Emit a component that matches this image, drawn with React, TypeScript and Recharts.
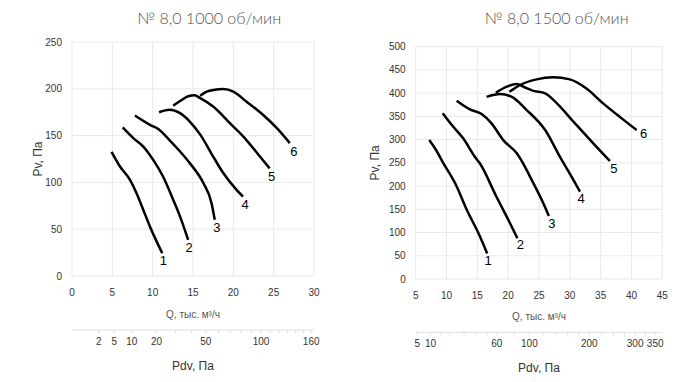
import React from 'react';
import { ComposedChart, Line, XAxis, YAxis, CartesianGrid } from 'recharts';

// ---------- 1000 об/мин ----------
const l1 = [{ q: 4.9, p: 132.7 }, { q: 5.95, p: 117 }, { q: 7.19, p: 102.7 }, { q: 8.0, p: 88.5 }, { q: 8.84, p: 70.6 }, { q: 9.67, p: 52.7 }, { q: 10.5, p: 36.7 }, { q: 11.19, p: 24.3 }];
const l2 = [{ q: 6.28, p: 158.7 }, { q: 7.6, p: 147.3 }, { q: 8.84, p: 138.3 }, { q: 10.07, p: 124 }, { q: 11.3, p: 106 }, { q: 12.55, p: 81.3 }, { q: 13.4, p: 63.4 }, { q: 14.4, p: 38.5 }];
const l3 = [{ q: 7.8, p: 171.5 }, { q: 9.67, p: 161.5 }, { q: 10.7, p: 157 }, { q: 12.05, p: 145.5 }, { q: 13.4, p: 133 }, { q: 14.6, p: 120.6 }, { q: 16.3, p: 99 }, { q: 17.3, p: 77.8 }, { q: 17.7, p: 60 }];
const l4 = [{ q: 10.8, p: 175 }, { q: 12.1, p: 177.6 }, { q: 13.4, p: 174 }, { q: 14.6, p: 165 }, { q: 15.9, p: 151 }, { q: 17.5, p: 127.6 }, { q: 18.75, p: 110 }, { q: 20.4, p: 92 }, { q: 21.2, p: 84.8 }];
const l5 = [{ q: 12.55, p: 182 }, { q: 13.6, p: 188 }, { q: 14.4, p: 192 }, { q: 15.2, p: 193 }, { q: 15.9, p: 190 }, { q: 17.5, p: 181 }, { q: 19.6, p: 163 }, { q: 21.6, p: 145.5 }, { q: 23.3, p: 127.6 }, { q: 24.5, p: 115 }];
const l6 = [{ q: 15.9, p: 192.6 }, { q: 16.7, p: 197 }, { q: 17.7, p: 199 }, { q: 18.75, p: 199.7 }, { q: 20, p: 197 }, { q: 21.6, p: 186.5 }, { q: 23.7, p: 172 }, { q: 25.4, p: 158 }, { q: 27, p: 142 }];

const lQTicks = [0, 5, 10, 15, 20, 25, 30];
const lPTicks = [0, 50, 100, 150, 200, 250];
const lPdvTicks = [2, 5, 10, 20, 30, 40, 50, 60, 70, 80, 90, 100, 110, 120, 130, 140, 150, 160];
const lPdvLabels = [2, 5, 10, 20, 50, 100, 160];
const lPdvDomain = [0, 163.8];

// ---------- 1500 об/мин ----------
const r1 = [{ q: 7.2, p: 299 }, { q: 8.3, p: 277.6 }, { q: 9.5, p: 249 }, { q: 11.4, p: 206 }, { q: 13.3, p: 148.5 }, { q: 15.2, p: 98 }, { q: 16.6, p: 55 }];
const r2 = [{ q: 9.4, p: 356.6 }, { q: 11.1, p: 327.7 }, { q: 12.7, p: 302.8 }, { q: 14.6, p: 263 }, { q: 15.4, p: 249 }, { q: 18.1, p: 177 }, { q: 20.3, p: 120 }, { q: 21.5, p: 87.6 }];
const r3 = [{ q: 11.65, p: 383.7 }, { q: 13.8, p: 365 }, { q: 15.7, p: 355 }, { q: 17.3, p: 335 }, { q: 19.2, p: 299 }, { q: 21.4, p: 270.5 }, { q: 24.1, p: 206 }, { q: 25.7, p: 163 }, { q: 26.6, p: 135.6 }];
const r4 = [{ q: 16.5, p: 392 }, { q: 18.7, p: 398 }, { q: 20.6, p: 392 }, { q: 23, p: 363.7 }, { q: 26, p: 320.6 }, { q: 28.4, p: 263 }, { q: 30.6, p: 213 }, { q: 31.65, p: 188 }];
const r5 = [{ q: 18, p: 401 }, { q: 19.6, p: 413 }, { q: 21.4, p: 419.6 }, { q: 22.5, p: 413.8 }, { q: 24.1, p: 405 }, { q: 26, p: 399.6 }, { q: 27.9, p: 378 }, { q: 30.6, p: 338.5 }, { q: 33.8, p: 292 }, { q: 36.5, p: 254 }];
const r6 = [{ q: 20.2, p: 403 }, { q: 21.9, p: 417.5 }, { q: 24.6, p: 429.7 }, { q: 27.3, p: 434 }, { q: 30, p: 429.7 }, { q: 32.7, p: 410 }, { q: 35.4, p: 378 }, { q: 38.1, p: 349 }, { q: 40.85, p: 320.6 }];

const rQTicks = [5, 10, 15, 20, 25, 30, 35, 40, 45];
const rPTicks = [0, 50, 100, 150, 200, 250, 300, 350, 400, 450, 500];
const rPdvTicks = [5, 10, 15, 20, 30, 40, 50, 60, 80, 100, 120, 140, 160, 180, 200, 225, 250, 275, 300, 325, 350];
const rPdvLabels = [5, 10, 60, 100, 200, 300, 350];
const rPdvDomain = [4.55, 368.6];

const curveNames = ['1', '2', '3', '4', '5', '6'];

const FONT = 'Liberation Sans, Arial, sans-serif';

const endLabel = (name: string, n: number, dx: number, dy: number) => (props: any) => {
  if (props.index !== n - 1) return <g key={`e${props.index}`} />;
  return (
    <text key="end" x={props.x + dx} y={props.y + dy} textAnchor="middle" fontSize={13} fontFamily={FONT} fill="#000">
      {name}
    </text>
  );
};

function FanChart(props: any) {
  const c = props.cfg;
  const pdvAnchor = c.pdvTicks.map((v: number) => ({ pdv: v, none: null }));
  return (
    <div style={{ position: 'absolute', left: c.left, top: 0, width: 350, height: 382 }}>
      <div
        style={{
          position: 'absolute',
          left: 0,
          top: c.titleTop,
          width: 350,
          textAlign: 'center',
          paddingLeft: c.titleShift,
          boxSizing: 'border-box',
          fontFamily: 'Lato, sans-serif',
          fontWeight: 300,
          fontSize: 16,
          color: '#555',
          whiteSpace: 'nowrap',
        }}
      >
        {c.title}
      </div>
      <ComposedChart width={350} height={382} margin={{ top: c.top, right: c.right, bottom: c.bottom, left: 0 }}>
        <CartesianGrid xAxisId="a_q" yAxisId="p" stroke="#e9e9e9" strokeWidth={1} />
        <XAxis
          xAxisId="a_q"
          type="number"
          dataKey="q"
          domain={c.qDomain}
          ticks={c.qTicks}
          allowDataOverflow
          height={c.qHeight}
          axisLine={false}
          tickLine={false}
          tickSize={0}
          tickMargin={13}
          tick={{ fontSize: 10, fill: '#333', fontFamily: FONT }}
          label={{ value: 'Q, тыс. м³/ч', position: 'insideBottom', offset: 12, fontSize: 10, fill: '#555', fontFamily: FONT }}
        />
        <XAxis
          xAxisId="b_pdv"
          type="number"
          dataKey="pdv"
          scale="sqrt"
          domain={c.pdvDomain}
          ticks={c.pdvTicks}
          allowDataOverflow
          interval={0}
          height={44}
          axisLine={{ stroke: '#dcdcdc' }}
          tickLine={{ stroke: '#dcdcdc' }}
          tickSize={3}
          tickMargin={5}
          tickFormatter={(v: number) => (c.pdvLabels.includes(v) ? String(v) : '')}
          tick={{ fontSize: 10, fill: '#333', fontFamily: FONT }}
          label={{ value: 'Pdv, Па', position: 'insideBottom', offset: 4, fontSize: 12, fill: '#333', fontFamily: FONT }}
        />
        <YAxis
          yAxisId="p"
          type="number"
          domain={c.pDomain}
          ticks={c.pTicks}
          allowDataOverflow
          interval={0}
          width={c.yWidth}
          axisLine={false}
          tickLine={false}
          tickSize={0}
          tickMargin={10}
          tick={{ fontSize: 10, fill: '#333', fontFamily: FONT }}
          label={{ value: 'Pv, Па', angle: -90, position: 'center', dx: c.yLabelDx, fontSize: 12, fill: '#333', fontFamily: FONT }}
        />
        <Line
          xAxisId="b_pdv"
          yAxisId="p"
          data={pdvAnchor}
          dataKey="none"
          stroke="none"
          dot={false}
          activeDot={false}
          legendType="none"
          isAnimationActive={false}
        />
        {c.curves.map((d: any[], i: number) => (
          <Line
            key={i}
            xAxisId="a_q"
            yAxisId="p"
            data={d}
            dataKey="p"
            type="monotone"
            stroke="#000"
            strokeWidth={2.5}
            dot={false}
            activeDot={false}
            isAnimationActive={false}
            label={endLabel(curveNames[i], d.length, c.labelOffsets[i][0], c.labelOffsets[i][1])}
          />
        ))}
      </ComposedChart>
    </div>
  );
}

const leftCfg = {
  left: 0,
  title: '№ 8,0 1000 об/мин',
  titleTop: 8,
  titleShift: 68,
  top: 42,
  right: 36,
  bottom: 8,
  yWidth: 72,
  yLabelDx: 2,
  qHeight: 54,
  qDomain: [0, 30],
  qTicks: lQTicks,
  pDomain: [0, 250],
  pTicks: lPTicks,
  pdvTicks: lPdvTicks,
  pdvLabels: lPdvLabels,
  pdvDomain: lPdvDomain,
  curves: [l1, l2, l3, l4, l5, l6],
  labelOffsets: [[1, 12], [1, 12], [2, 12], [2, 12], [2, 13], [4, 13]],
};

const rightCfg = {
  left: 350,
  title: '№ 8,0 1500 об/мин',
  titleTop: 8,
  titleShift: 63,
  top: 46.7,
  right: 37.7,
  bottom: 5.7,
  yWidth: 65.7,
  yLabelDx: -8,
  qHeight: 53.3,
  qDomain: [5, 45],
  qTicks: rQTicks,
  pDomain: [0, 500],
  pTicks: rPTicks,
  pdvTicks: rPdvTicks,
  pdvLabels: rPdvLabels,
  pdvDomain: rPdvDomain,
  curves: [r1, r2, r3, r4, r5, r6],
  labelOffsets: [[1, 12], [3, 11], [3, 12], [1, 11], [4, 12], [7, 8]],
};

export default function App() {
  return (
    <div style={{ position: 'absolute', left: 0, top: 0, width: 700, height: 382, background: '#fff', overflow: 'hidden' }}>
      <FanChart cfg={leftCfg} />
      <FanChart cfg={rightCfg} />
    </div>
  );
}
